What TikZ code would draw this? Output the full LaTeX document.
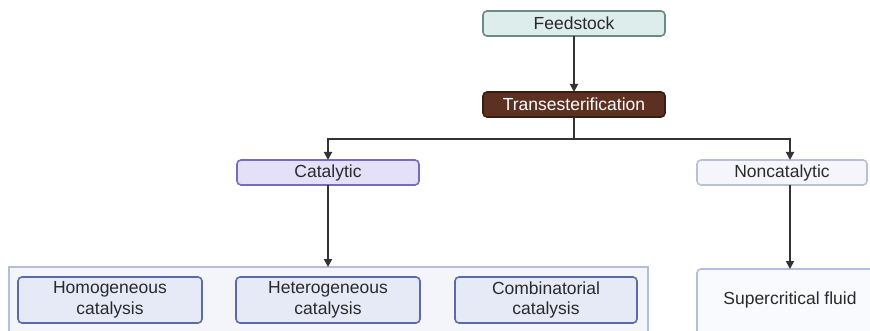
\documentclass[tikz,border=0pt]{standalone}
\usepackage{fontspec}
\setmainfont{Liberation Sans}
\usetikzlibrary{arrows.meta}
\definecolor{feedfill}{HTML}{DDEDEC}
\definecolor{feedline}{HTML}{6A8A88}
\definecolor{transfill}{HTML}{5C3121}
\definecolor{transline}{HTML}{3A1E12}
\definecolor{catfill}{HTML}{E4E0F8}
\definecolor{catline}{HTML}{7B68C0}
\definecolor{noncfill}{HTML}{F5F6FB}
\definecolor{noncline}{HTML}{B8C0D8}
\definecolor{contfill}{HTML}{F3F5FA}
\definecolor{contline}{HTML}{B3BEDA}
\definecolor{innerfill}{HTML}{E6EAF6}
\definecolor{innerline}{HTML}{5B6BA8}
\definecolor{arrowcol}{HTML}{333333}
\definecolor{txt}{HTML}{2A2A2A}
\tikzset{
  boxbase/.style={rounded corners=4pt, line width=1.6pt},
  lbl/.style={font=\fontsize{17.5}{20.5}\selectfont, align=center, text=txt, inner sep=0pt},
  arr/.style={draw=arrowcol, line width=1.8pt, -{Triangle[length=8pt,width=8pt]}},
  ln/.style={draw=arrowcol, line width=1.8pt},
}
\begin{document}
\begin{tikzpicture}[x=1pt,y=-1pt]
\useasboundingbox (0,0) rectangle (870,331);
\clip (0,0) rectangle (870,331);
% boxes
\draw[boxbase, fill=feedfill, draw=feedline] (483,11) rectangle (665,36);
\node[lbl] (feed) at (574,23.5) {Feedstock};
\coordinate (feedB) at (574,36);
\draw[boxbase, fill=transfill, draw=transline] (483,92) rectangle (665,117);
\node[lbl, text=white] (trans) at (574,104.5) {Transesterification};
\coordinate (transT) at (574,92);
\coordinate (transB) at (574,117);
\draw[boxbase, fill=catfill, draw=catline] (237,160) rectangle (419,185);
\node[lbl] (cat) at (328,172.5) {Catalytic};
\coordinate (catT) at (328,160);
\coordinate (catB) at (328,185);
\draw[boxbase, fill=noncfill, draw=noncline] (697,160) rectangle (867,185);
\node[lbl] (nonc) at (782,172.5) {Noncatalytic};
\coordinate (noncT) at (790,160);
\coordinate (noncB) at (790,185);
% container
\draw[fill=contfill, draw=contline, line width=1.6pt] (9,267) rectangle (648,345);
\coordinate (contT) at (328,267);
\draw[boxbase, fill=innerfill, draw=innerline] (18,277) rectangle (202,323);
\node[lbl] (homo) at (110,300) {Homogeneous\\catalysis};
\draw[boxbase, fill=innerfill, draw=innerline] (236,277) rectangle (420,323);
\node[lbl] (hetero) at (328,300) {Heterogeneous\\catalysis};
\draw[boxbase, fill=innerfill, draw=innerline] (455,277) rectangle (637,323);
\node[lbl] (comb) at (546,300) {Combinatorial\\catalysis};
\draw[boxbase, fill=noncfill!60!white, draw=contline] (697,269) rectangle (880,345);
\node[lbl] (super) at (790,300) {Supercritical fluid};
\coordinate (superT) at (790,269);
% connectors
\draw[arr] (feedB) -- (transT);
\coordinate (junc) at (574,139);
\draw[ln] (transB) -- (junc);
\draw[arr] (junc) -| (catT);
\draw[arr] (junc) -| (noncT);
\draw[arr] (catB) -- (contT);
\draw[arr] (noncB) -- (superT);
\end{tikzpicture}
\end{document}
